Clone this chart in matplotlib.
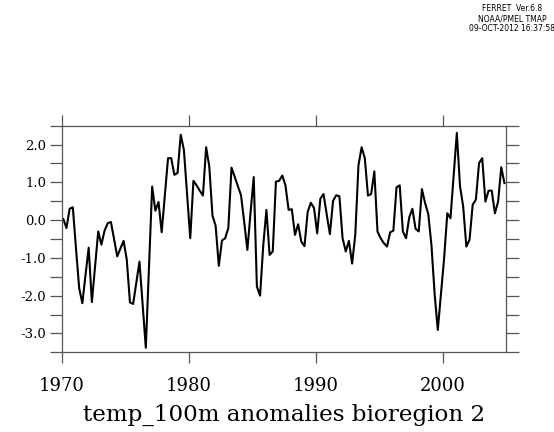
import numpy as np
import matplotlib
matplotlib.use("Agg")
import matplotlib.pyplot as plt
from matplotlib.ticker import MultipleLocator, FixedLocator

# ---- data (quarterly anomalies) ----
start_year = 1970.125
step_years = 0.25
anomaly = [
    0.03, -0.21, 0.30, 0.34, -0.75, -1.80, -2.20, -1.45, -0.73, -2.17,
    -1.25, -0.30, -0.65, -0.28, -0.08, -0.05, -0.50, -0.96, -0.75, -0.55,
    -1.05, -2.18, -2.22, -1.65, -1.10, -2.25, -3.38, -1.25, 0.89, 0.25,
    0.48, -0.32, 0.65, 1.64, 1.64, 1.20, 1.25, 2.26, 1.86, 0.70,
    -0.48, 1.04, 0.92, 0.78, 0.65, 1.93, 1.42, 0.12, -0.15, -1.21,
    -0.54, -0.48, -0.21, 1.39, 1.15, 0.90, 0.66, -0.05, -0.79, 0.20,
    1.14, -1.76, -2.00, -0.67, 0.27, -0.92, -0.83, 1.02, 1.04, 1.18,
    0.92, 0.27, 0.29, -0.39, -0.11, -0.57, -0.69, 0.22, 0.46, 0.32,
    -0.35, 0.57, 0.69, 0.15, -0.37, 0.51, 0.66, 0.63, -0.48, -0.83,
    -0.55, -1.15, -0.39, 1.45, 1.93, 1.64, 0.65, 0.69, 1.29, -0.30,
    -0.48, -0.61, -0.70, -0.32, -0.28, 0.87, 0.92, -0.30, -0.48, 0.07,
    0.30, -0.23, -0.30, 0.82, 0.45, 0.16, -0.66, -1.95, -2.91, -1.97,
    -1.00, 0.18, 0.05, 1.20, 2.31, 0.90, 0.36, -0.70, -0.52, 0.41,
    0.54, 1.51, 1.64, 0.49, 0.78, 0.78, 0.18, 0.49, 1.40, 0.98,
]
x_ticks = [1970, 1980, 1990, 2000]
x_tick_labels = ["1970", "1980", "1990", "2000"]
y_ticks = [-3.0, -2.0, -1.0, 0.0, 1.0, 2.0]
y_tick_labels = ["-3.0", "-2.0", "-1.0", "0.0", "1.0", "2.0"]
title = "temp_100m anomalies bioregion 2"
header = "FERRET  Ver.6.8\nNOAA/PMEL TMAP\n09-OCT-2012 16:37:58"

years = start_year + step_years * np.arange(len(anomaly))

plt.rcParams['axes.unicode_minus'] = False
fig = plt.figure(figsize=(5.54, 4.32), dpi=100)
ax = fig.add_axes([0.1114, 0.1845, 0.8020, 0.5245])

ax.plot(years, anomaly, color="black", lw=1.5)
ax.set_xlim(1970.0, 2005.0)
ax.set_ylim(-3.5, 2.5)

for s in ax.spines.values():
    s.set_color("#555555")
    s.set_linewidth(0.9)

ax.xaxis.set_major_locator(FixedLocator(x_ticks))
ax.set_xticklabels(x_tick_labels, fontfamily="DejaVu Serif", fontsize=13)
ax.yaxis.set_major_locator(FixedLocator(y_ticks))
ax.set_yticklabels(y_tick_labels, fontfamily="DejaVu Serif", fontsize=9.5)
ax.yaxis.set_minor_locator(MultipleLocator(0.5))

ax.tick_params(axis="x", which="major", direction="out", length=8, width=0.9,
               color="#555555", top=True, bottom=True, pad=10)
ax.tick_params(axis="y", which="both", direction="out", length=9, width=0.9,
               color="#555555", left=True, right=True, pad=2)

ax.set_xlabel(title, fontfamily="DejaVu Serif", fontsize=16.6, labelpad=6)

fig.text(0.925, 0.99, header, ha="center", va="top", fontsize=5.5,
         fontfamily="DejaVu Sans", linespacing=1.1)

fig.savefig("out.png", dpi=100)
